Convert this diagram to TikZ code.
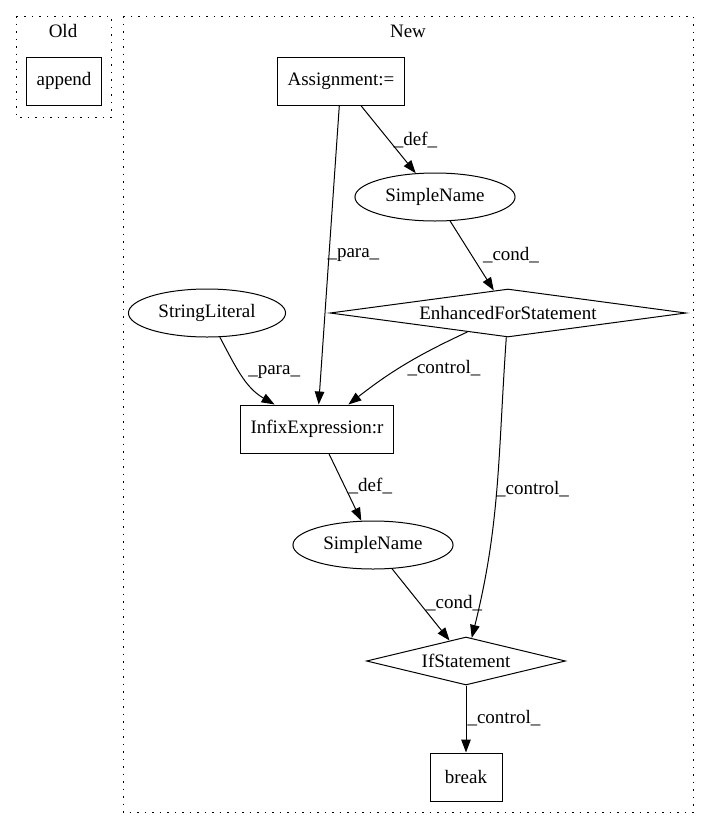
\documentclass[tikz,border=0pt]{standalone}
\usepackage{fontspec}
\setmainfont{Liberation Serif}
\usetikzlibrary{arrows.meta,positioning,shapes.geometric}

\begin{document}
\begin{tikzpicture}[
      x=1pt, y=-1pt,
      every node/.style={font=\fontsize{19}{21}\selectfont},
      stmtbox/.style={
         rectangle,
         draw=black,
         line width=1pt,
         inner xsep=10pt,
         minimum width=72pt,
         minimum height=48pt},
      nameell/.style={
         ellipse,
         draw=black,
         line width=1pt,
         inner xsep=7pt,
         inner ysep=2pt,
         minimum height=48pt},
      conddiam/.style={
         diamond,
         draw=black,
         line width=1pt,
         aspect=6,
         inner sep=0pt,
         minimum height=48pt},
      clusterbox/.style={draw=black, line width=1pt, dash pattern=on 1.5pt off 6pt},
      myarrow/.style={-{Triangle[length=13pt,width=9.5pt]}, line width=1pt},
      lbl/.style={inner sep=2pt},
      on grid,
      node distance=116pt and 94pt
      ]
      \useasboundingbox (0,0) rectangle (709,828);

      % clusters
      \draw[clusterbox] (16,16) rectangle (111,117);
      \draw[clusterbox] (123,16) rectangle (693,812);
      \node (oldlbl) at (63,31) {Old};
      \node (newlbl) at (408,31) {New};

      \node[stmtbox] (assign) at (341,81) {Assignment:=};
      \node[stmtbox,left=277pt of assign] (append) {append};
      \node[nameell,below right=116pt and 94pt of assign] (sname1) {SimpleName};
      \node[conddiam,minimum width=356pt,below right=116pt and 73pt of sname1] (forstmt) {EnhancedForStatement};
      \node[stmtbox,below left=116pt and 191pt of forstmt] (infix) {InfixExpression:r};
      \node[nameell,above left=116pt and 110pt of infix] (strlit) {StringLiteral};
      \node[nameell,below right=116pt and 56pt of infix] (sname2) {SimpleName};
      \node[conddiam,minimum width=199pt,below right=116pt and 93pt of sname2] (ifstmt) {IfStatement};
      \node[stmtbox,below=of ifstmt] (brk) {break};

    \foreach \i/\j/\txt/\p/\s in {% start node/end node/text/pos/shift
      assign/sname1/\_def\_/0.51/2.5pt,
      assign/infix/\_para\_/0.5/-4pt,
      sname1/forstmt/\_cond\_/0.49/9pt,
      infix/sname2/\_def\_/0.49/1.5pt,
      sname2/ifstmt/\_cond\_/0.48/4pt,
      ifstmt/brk/\_control\_/0.49/-1pt}
       \draw [myarrow] (\i) -- node[lbl,pos=\p,right=\s] {\txt} (\j);

    % bent ones
    \draw [myarrow] (strlit) to[out=-62,in=150] node[lbl,pos=0.45,right=6pt] {\_para\_} (infix);
    \draw [myarrow] (forstmt) to[out=205,in=38] node[lbl,pos=0.55,right=5pt] {\_control\_} (infix);
    \draw [myarrow] (forstmt) to[out=266,in=76] node[lbl,pos=0.5,right=-3pt] {\_control\_} (ifstmt);

    \end{tikzpicture}
\end{document}
